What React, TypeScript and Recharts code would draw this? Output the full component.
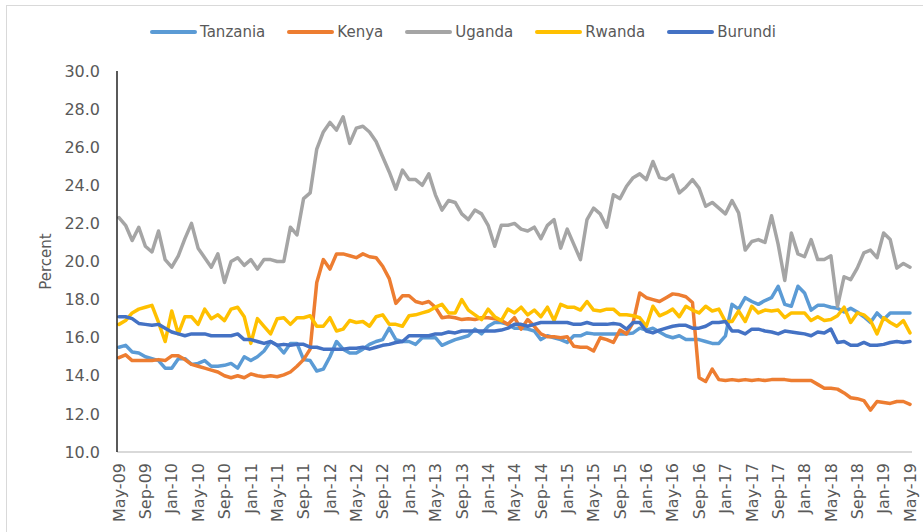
import { LineChart, Line, XAxis, YAxis } from "recharts";

// monthly categories, May-09 .. May-19
const MONTH_NAMES = ["Jan", "Feb", "Mar", "Apr", "May", "Jun", "Jul", "Aug", "Sep", "Oct", "Nov", "Dec"];
const START_YEAR = 2009;
const START_MONTH = 4; // May
const MONTH_COUNT = 121;
const months = Array.from({ length: MONTH_COUNT }, (_, i) => {
  const m = (START_MONTH + i) % 12;
  const y = (START_YEAR + Math.floor((START_MONTH + i) / 12)) % 100;
  return `${MONTH_NAMES[m]}-${String(y).padStart(2, "0")}`;
});

const yTicks = [10, 12, 14, 16, 18, 20, 22, 24, 26, 28, 30];

const tanzania = [
  15.5, 15.6, 15.25, 15.2, 15.0, 14.9, 14.8, 14.4, 14.4, 14.9,
  14.9, 14.6, 14.65, 14.8, 14.5, 14.5, 14.55, 14.65, 14.4, 15.0,
  14.8, 15.0, 15.3, 15.8, 15.6, 15.2, 15.7, 15.7, 14.85, 14.8,
  14.25, 14.35, 15.0, 15.8, 15.4, 15.2, 15.2, 15.4, 15.65, 15.8,
  15.9, 16.5, 15.9, 15.8, 15.8, 15.65, 16.0, 16.0, 16.0, 15.6,
  15.75, 15.9, 16.0, 16.1, 16.45, 16.2, 16.6, 16.8, 16.8, 16.7,
  16.5, 16.5, 16.45, 16.35, 15.9, 16.1, 16.0, 15.9, 15.75, 16.1,
  16.1, 16.25, 16.2, 16.2, 16.2, 16.2, 16.2, 16.2, 16.25, 16.5,
  16.4, 16.5, 16.3, 16.1, 16.0, 16.1, 15.9, 15.9, 15.9, 15.8,
  15.7, 15.7, 16.1, 17.75, 17.5, 18.1, 17.9, 17.75, 17.95, 18.1,
  18.7, 17.75, 17.65, 18.7, 18.35, 17.45, 17.7, 17.7, 17.6, 17.55,
  17.35, 17.55, 17.35, 17.1, 16.8, 17.3, 16.95, 17.3, 17.3, 17.3,
  17.3,
];

const kenya = [
  14.95, 15.1, 14.8, 14.8, 14.8, 14.8, 14.85, 14.8, 15.05, 15.05,
  14.85, 14.6, 14.5, 14.4, 14.3, 14.2, 14.0, 13.9, 14.0, 13.9,
  14.1, 14.0, 13.95, 14.0, 13.95, 14.05, 14.2, 14.5, 14.85, 15.4,
  18.9, 20.1, 19.6, 20.4, 20.4, 20.3, 20.2, 20.4, 20.25, 20.2,
  19.75, 19.1, 17.8, 18.2, 18.2, 17.9, 17.8, 17.9, 17.6, 17.05,
  17.1, 17.05, 16.95, 17.0, 16.95, 17.05, 17.05, 17.0, 16.9, 16.7,
  17.05, 16.45, 16.95, 16.6, 16.2, 16.05, 16.05, 16.0, 16.05, 15.55,
  15.5, 15.5, 15.3, 16.0, 15.9, 15.75, 16.4, 16.2, 16.8, 18.35,
  18.1, 18.0, 17.9, 18.1, 18.3, 18.25, 18.15, 17.85, 13.9, 13.7,
  14.35, 13.8, 13.75, 13.8, 13.75, 13.8, 13.75, 13.8, 13.75, 13.8,
  13.8, 13.8, 13.75, 13.75, 13.75, 13.75, 13.55, 13.35, 13.35, 13.3,
  13.1, 12.85, 12.8, 12.7, 12.2, 12.65, 12.6, 12.55, 12.65, 12.65,
  12.5,
];

const uganda = [
  22.3, 21.9, 21.1, 21.8, 20.8, 20.5, 21.6, 20.1, 19.7, 20.3,
  21.2, 22.0, 20.7, 20.2, 19.7, 20.4, 18.9, 20.0, 20.2, 19.8,
  20.1, 19.6, 20.1, 20.1, 20.0, 20.0, 21.8, 21.4, 23.3, 23.6,
  25.9, 26.8, 27.3, 26.9, 27.6, 26.2, 27.0, 27.1, 26.8, 26.3,
  25.5, 24.7, 23.8, 24.8, 24.3, 24.3, 24.0, 24.6, 23.5, 22.7,
  23.2, 23.1, 22.5, 22.2, 22.7, 22.5, 21.9, 20.8, 21.9, 21.9,
  22.0, 21.7, 21.6, 21.8, 21.2, 21.9, 22.2, 20.7, 21.7, 20.9,
  20.1, 22.2, 22.8, 22.5, 21.8, 23.5, 23.3, 23.95, 24.4, 24.6,
  24.3, 25.25, 24.4, 24.3, 24.55, 23.6, 23.9, 24.3, 23.85, 22.9,
  23.1, 22.8, 22.5, 23.2, 22.55, 20.6, 21.05, 21.15, 21.0, 22.4,
  20.9, 19.0, 21.5, 20.4, 20.25, 21.15, 20.1, 20.1, 20.3, 17.65,
  19.2, 19.05, 19.65, 20.45, 20.6, 20.2, 21.5, 21.15, 19.65, 19.9,
  19.7,
];

const rwanda = [
  16.7, 16.9, 17.3, 17.5, 17.6, 17.7, 16.8, 15.8, 17.4, 16.2,
  17.1, 17.1, 16.7, 17.5, 17.0, 17.2, 16.9, 17.5, 17.6, 17.1,
  15.7, 17.0, 16.6, 16.2, 17.0, 17.05, 16.7, 17.05, 17.05, 17.15,
  16.6, 16.6, 17.05, 16.35, 16.45, 16.9, 16.8, 16.85, 16.6, 17.1,
  17.2, 16.7, 16.7, 16.6, 17.15, 17.2, 17.3, 17.4, 17.6, 17.75,
  17.3, 17.3, 18.0, 17.45, 17.2, 16.95, 17.5, 17.1, 16.9, 17.5,
  17.3, 17.6, 17.2, 17.45, 17.1, 17.6, 16.9, 17.75, 17.6, 17.6,
  17.45, 17.9, 17.45, 17.4, 17.5, 17.5, 17.2, 17.2, 17.15, 17.05,
  16.6, 17.65, 17.15, 17.3, 17.5, 17.1, 17.65, 17.45, 17.3, 17.65,
  17.4, 17.5, 16.85, 16.85, 17.4, 16.85, 17.65, 17.3, 17.45, 17.4,
  17.45, 17.05, 17.3, 17.3, 17.3, 16.9, 17.1, 16.9, 16.95, 17.15,
  17.6, 16.8, 17.3, 17.2, 16.9, 16.2, 17.05, 16.8, 16.6, 16.9,
  16.25,
];

const burundi = [
  17.1, 17.1, 17.0, 16.75, 16.7, 16.65, 16.7, 16.5, 16.3, 16.2,
  16.1, 16.2, 16.2, 16.2, 16.1, 16.1, 16.1, 16.1, 16.2, 15.9,
  15.9, 15.8, 15.7, 15.8, 15.6, 15.65, 15.6, 15.65, 15.65, 15.5,
  15.5, 15.4, 15.4, 15.4, 15.4, 15.45, 15.45, 15.5, 15.4, 15.5,
  15.6, 15.65, 15.75, 15.8, 16.1, 16.1, 16.1, 16.1, 16.2, 16.2,
  16.3, 16.25, 16.35, 16.35, 16.35, 16.35, 16.35, 16.35, 16.4, 16.5,
  16.7, 16.7, 16.6, 16.7, 16.8, 16.8, 16.8, 16.8, 16.8, 16.7,
  16.7, 16.8, 16.7, 16.7, 16.7, 16.75, 16.7, 16.45, 16.8, 16.8,
  16.35, 16.25, 16.4, 16.5, 16.6, 16.65, 16.65, 16.5, 16.5, 16.6,
  16.8, 16.8, 16.85, 16.35, 16.35, 16.2, 16.45, 16.45, 16.35, 16.3,
  16.2, 16.35, 16.3, 16.25, 16.2, 16.1, 16.3, 16.25, 16.45, 15.75,
  15.8, 15.6, 15.6, 15.75, 15.6, 15.6, 15.65, 15.75, 15.8, 15.75,
  15.8,
];

const series = [
  { name: "Tanzania", color: "#5B9BD5", values: tanzania },
  { name: "Kenya", color: "#ED7D31", values: kenya },
  { name: "Uganda", color: "#A5A5A5", values: uganda },
  { name: "Rwanda", color: "#FFC000", values: rwanda },
  { name: "Burundi", color: "#4472C4", values: burundi },
];

const data = months.map((month, i) => {
  const row: Record<string, string | number> = { month };
  series.forEach((s) => (row[s.name] = s.values[i]));
  return row;
});

const FONT = "'DejaVu Sans', 'Liberation Sans', sans-serif";
const TEXT = "#595959";

function MonthTick({ x, y, payload }: any) {
  return (
    <text
      x={x}
      y={y}
      dy="0.36em"
      transform={`rotate(-90 ${x} ${y})`}
      textAnchor="end"
      fill={TEXT}
      fontSize={16}
      fontFamily={FONT}
    >
      {payload.value}
    </text>
  );
}

function PercentLabel({ viewBox }: any) {
  const x = viewBox.x + 46;
  const y = viewBox.y + viewBox.height / 2;
  return (
    <text x={x} y={y} dy="0.36em" transform={`rotate(-90 ${x} ${y})`} textAnchor="middle" fill={TEXT} fontSize={15} fontFamily={FONT}>
      Percent
    </text>
  );
}

export default function App() {
  return (
    <div style={{ position: "absolute", left: 0, top: 0, width: 923, height: 532, background: "#fff", fontFamily: FONT }}>
      <div style={{ position: "absolute", left: 6, top: 5, right: 0, bottom: 0, borderTop: "1px solid #D9D9D9", borderLeft: "1px solid #D9D9D9" }} />
      <div style={{ position: "absolute", left: 150, top: 21, height: 22, display: "flex", alignItems: "center" }}>
        {series.map((s) => (
          <div key={s.name} style={{ display: "flex", alignItems: "center", marginRight: 22 }}>
            <span style={{ display: "inline-block", width: 47, height: 4, borderRadius: 2, background: s.color, marginRight: 3 }} />
            <span style={{ fontSize: 15, color: TEXT }}>{s.name}</span>
          </div>
        ))}
      </div>
      <LineChart width={923} height={532} data={data} margin={{ top: 71, right: 11, bottom: 0, left: 0 }} style={{ position: "absolute", left: 0, top: 0 }}>
        <XAxis
          dataKey="month"
          height={80}
          interval={3}
          tickLine={false}
          tickSize={0}
          tickMargin={11}
          padding={{ left: 2, right: 2 }}
          axisLine={{ stroke: "#D9D9D9", strokeWidth: 2 }}
          tick={<MonthTick />}
        />
        <XAxis xAxisId="top" orientation="top" dataKey="month" height={0} tick={false} tickLine={false} axisLine={{ stroke: "#000", strokeWidth: 1.3 }} />
        <YAxis
          domain={[10, 30]}
          ticks={yTicks}
          width={117}
          tickLine={false}
          tickSize={0}
          tickMargin={17}
          tickFormatter={(v: number) => v.toFixed(1)}
          tick={{ fill: TEXT, fontSize: 16, fontFamily: FONT }}
          axisLine={{ stroke: "#000", strokeWidth: 1.3 }}
          label={<PercentLabel />}
        />
        <YAxis yAxisId="right" orientation="right" width={0} tick={false} tickLine={false} axisLine={{ stroke: "#000", strokeWidth: 1.3 }} />
        {series.map((s) => (
          <Line
            key={s.name}
            type="linear"
            dataKey={s.name}
            stroke={s.color}
            strokeWidth={3.5}
            strokeLinejoin="round"
            strokeLinecap="round"
            dot={false}
            activeDot={false}
            isAnimationActive={false}
          />
        ))}
      </LineChart>
    </div>
  );
}
